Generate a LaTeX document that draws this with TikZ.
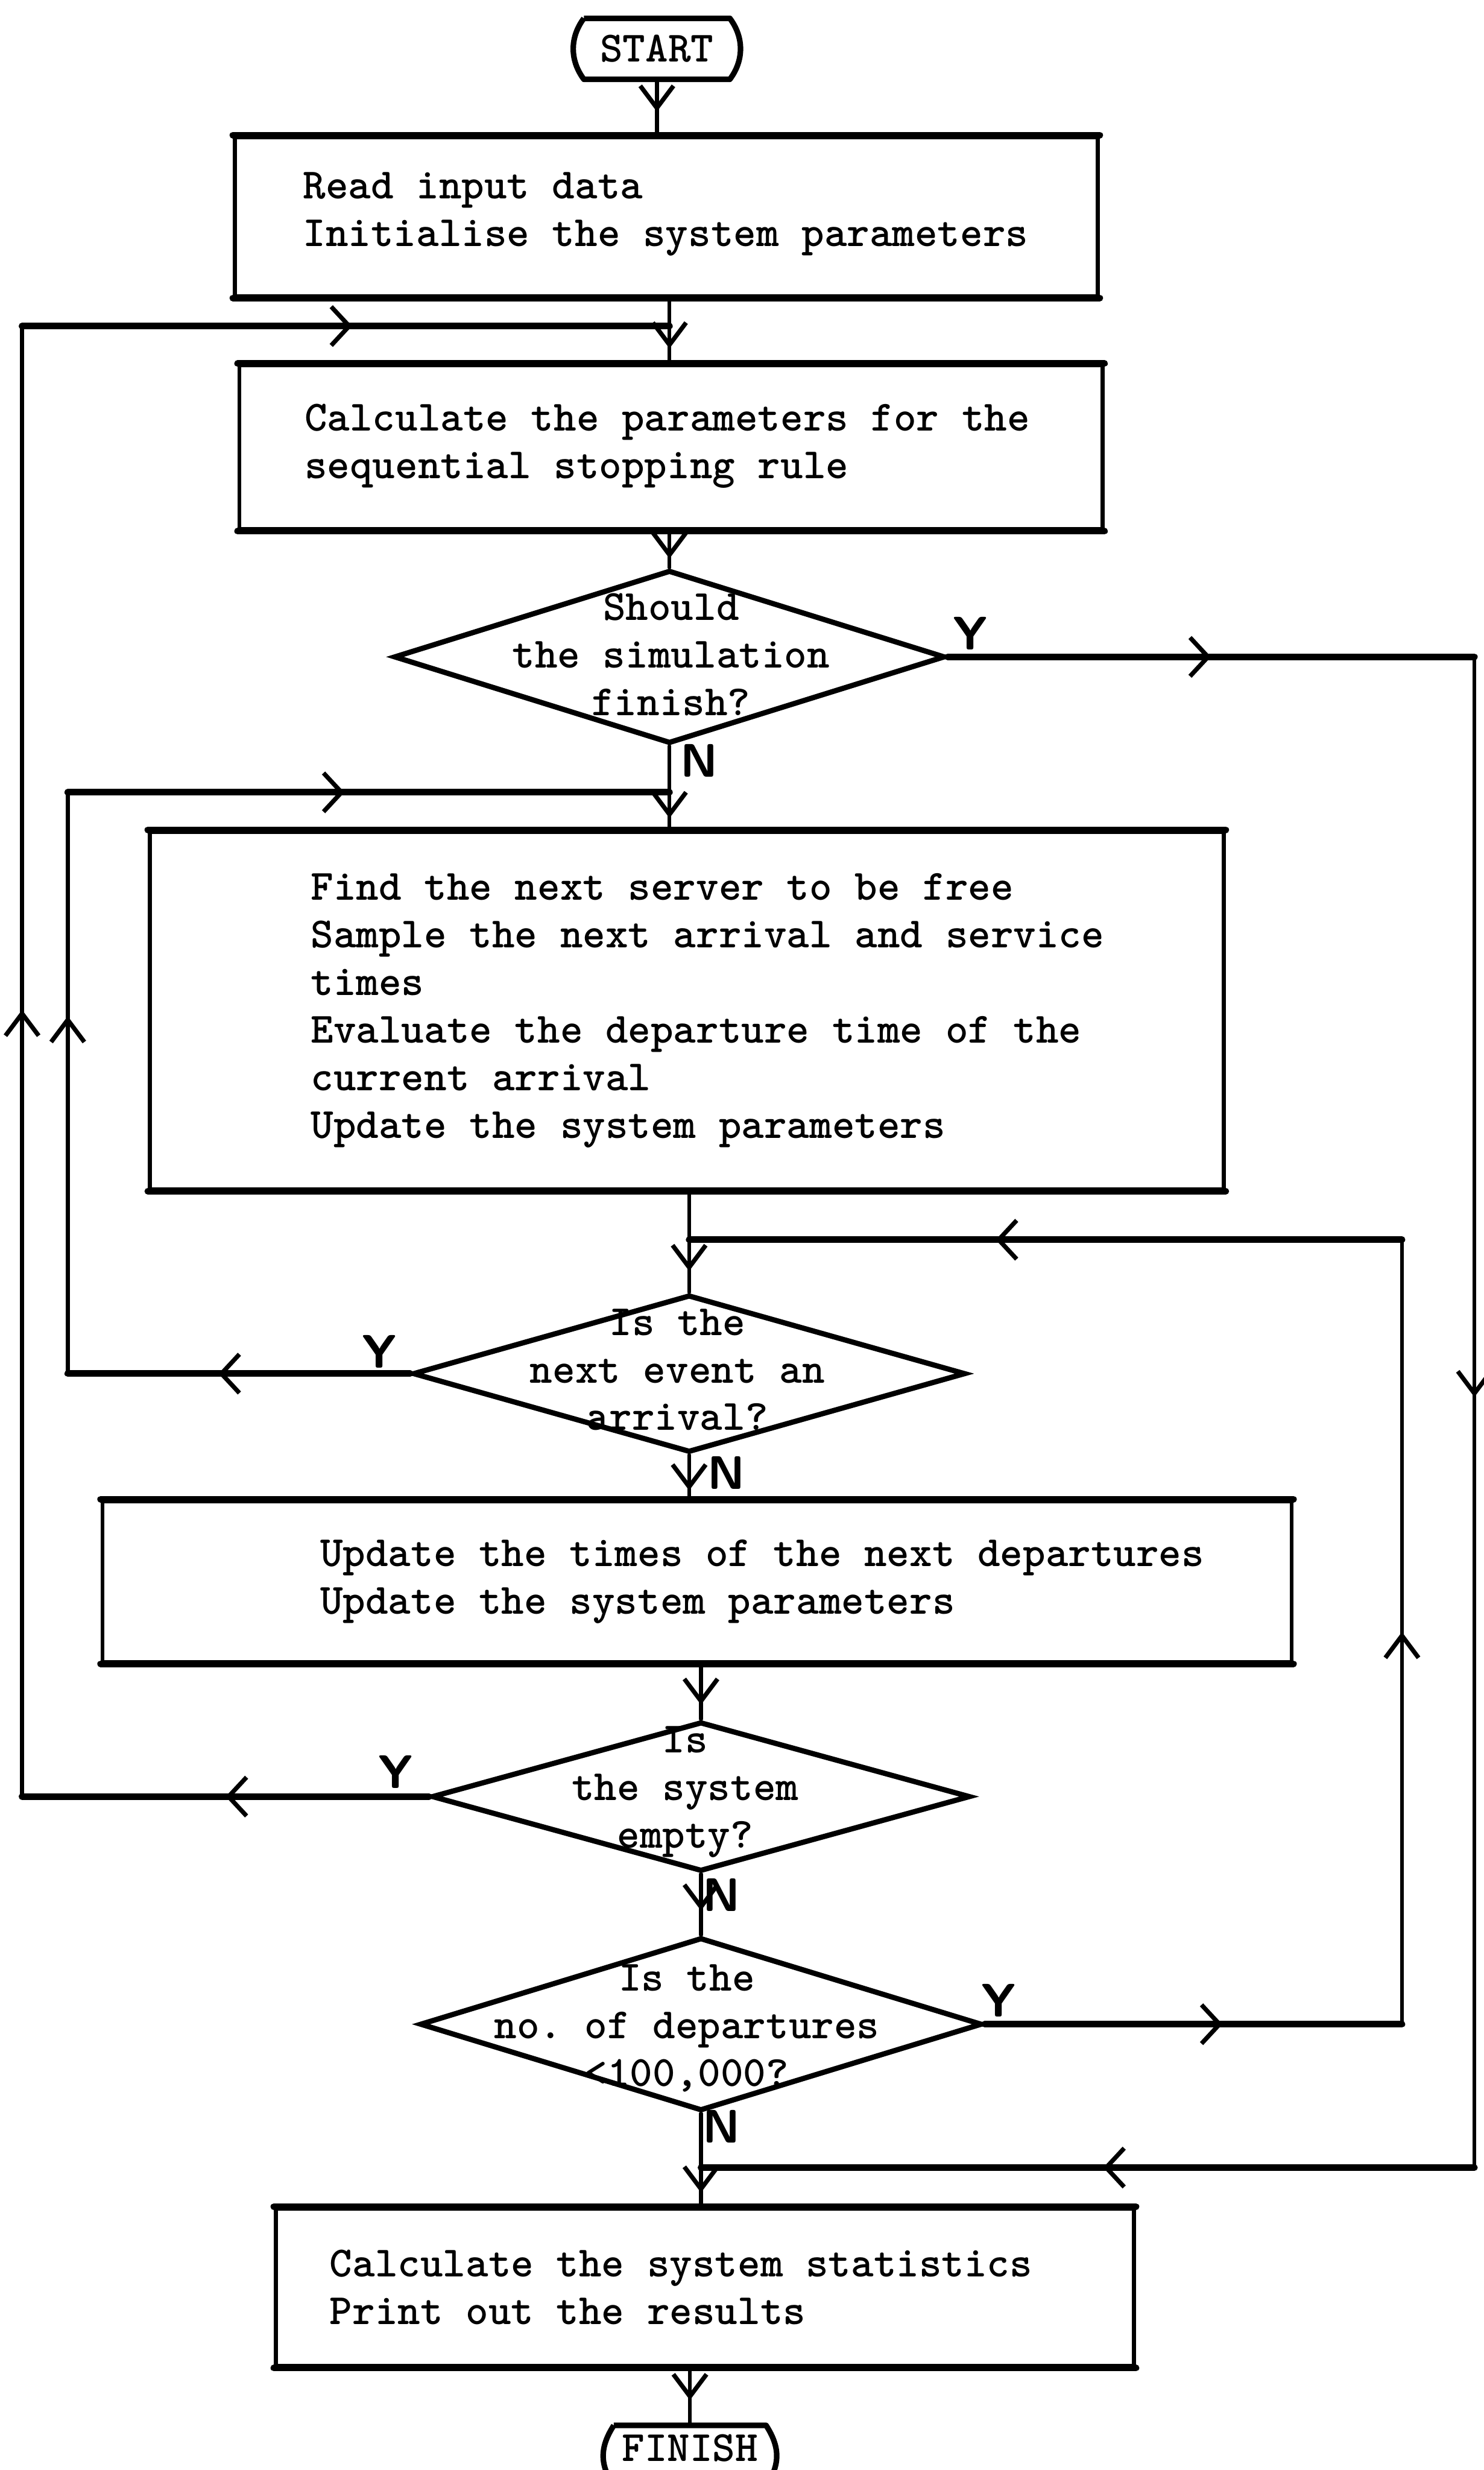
\documentclass[tikz,border=0pt]{standalone}
\usepackage{fontspec}
\usetikzlibrary{arrows.meta,decorations.markings,shapes.geometric,calc}
\frenchspacing
\newcommand{\twfont}{\fontsize{15.6}{17.2}\selectfont\ttfamily\bfseries}
\newcommand{\ynfont}{\fontsize{17}{19}\selectfont\sffamily\bfseries}
\tikzset{
  box/.style={draw, rectangle, line width=1.4pt, inner sep=0pt},
  dia/.style={draw, diamond, line width=1.9pt, inner sep=0pt},
  termnode/.style={rectangle, inner sep=0pt, font=\twfont},
  term/.style={line width=2pt, line join=round},
  txt/.style={font=\twfont, align=left, anchor=west, inner sep=0pt},
  qtxt/.style={font=\twfont, align=center, inner sep=0pt},
  yn/.style={font=\ynfont, inner sep=0pt},
  vl/.style={line width=1.4pt, line cap=round},
  hl/.style={line width=2.4pt, line cap=round},
  arr/.style={postaction={decorate, decoration={markings,
      mark=at position #1 with {\arrow{Straight Barb[length=8pt,width=12pt,line width=1.6pt]}}}}},
  harr/.style={postaction={decorate, decoration={markings,
      mark=at position #1 with {\arrow{Straight Barb[length=6.5pt,width=14pt,line width=1.6pt]}}}}},
}
\begin{document}
\begin{tikzpicture}[x=0.02cm,y=-0.02cm]
\useasboundingbox (0,0) rectangle (942,1568);
\fill[white] (0,0) rectangle (942,1568);

% terminals
\node[termnode, minimum width=1.84cm, minimum height=0.76cm] (start) at (417,31) {START};
\draw[term] (start.north west) -- (start.north east)
  .. controls +(9,12) and +(9,-12) .. (start.south east) -- (start.south west)
  .. controls +(-9,-12) and +(-9,12) .. (start.north west);

\node[termnode, minimum width=1.92cm, minimum height=0.56cm] (finish) at (438,1554) {FINISH};
\draw[term] (finish.north west) -- (finish.north east)
  .. controls +(9,14) and +(9,-14) .. ($(finish.south east)+(0,10)$) -- ($(finish.south west)+(0,10)$)
  .. controls +(-9,-14) and +(-9,14) .. (finish.north west);

% boxes
\node[box, minimum width=10.96cm, minimum height=2.02cm] (b1) at (423,137.5) {};
\node[txt] (b1t) at (192,136) {Read input data\\Initialise the system parameters};
\node[box, minimum width=10.96cm, minimum height=2.08cm] (b2) at (426,284) {};
\node[txt] (b2t) at (193,283) {Calculate the parameters for the\\sequential stopping rule};
\node[box, minimum width=13.64cm, minimum height=4.54cm] (b3) at (436,641.5) {};
\node[txt] (b3t) at (197,641.5) {Find the next server to be free\\Sample the next arrival and service\\times\\Evaluate the departure time of the\\current arrival\\Update the system parameters};
\node[box, minimum width=15.1cm, minimum height=2.04cm] (b4) at (442.5,1004) {};
\node[txt] (b4t) at (203,1004) {Update the times of the next departures\\Update the system parameters};
\node[box, minimum width=10.9cm, minimum height=2cm] (b5) at (447.5,1452) {};
\node[txt] (b5t) at (209,1452) {Calculate the system statistics\\Print out the results};
\foreach \b in {b1,b2,b3,b4,b5}{
  \draw[hl] (\b.north west) -- (\b.north east);
  \draw[hl] (\b.south west) -- (\b.south east);
}

% decisions
\node[dia, minimum width=7cm, minimum height=2.2cm] (d1) at (425,417) {};
\node[qtxt] (d1t) at (426,415.5) {Should\\the simulation\\finish?};
\node[dia, minimum width=7.02cm, minimum height=2cm] (d2) at (437.5,872) {};
\node[qtxt] (d2t) at (430,869.5) {Is the\\next event an\\arrival?};
\node[dia, minimum width=6.84cm, minimum height=1.9cm] (d3) at (445,1140.5) {};
\node[qtxt] (d3t) at (435,1137.5) {Is\\the system\\empty?};
\node[dia, minimum width=7.14cm, minimum height=2.2cm] (d4) at (445,1285) {};
\node[qtxt] (d4t) at (436,1287.5) {Is the\\no. of departures\\<100,000?};

% labels
\node[yn] (y1) at (616,402) {Y};
\node[yn] (n1) at (444,483) {N};
\node[yn] (y2) at (241,858) {Y};
\node[yn] (n2) at (461,935) {N};
\node[yn] (y3) at (251,1125) {Y};
\node[yn] (n3) at (458,1203) {N};
\node[yn] (y4) at (634,1270) {Y};
\node[yn] (n4) at (458,1350) {N};

% main flow
\draw[vl,arr=0.58] (start.south) -- (start.south |- b1.north);
\draw[vl,arr=0.77] (b1.south -| d1.north) -- (b2.north -| d1.north);
\draw[vl,arr=0.75] (b2.south -| d1.north) -- (d1.north);
\draw[vl,arr=0.86] (d1.south) -- (d1.south |- b3.north);
\draw[vl,arr=0.79] (b3.south -| d2.north) -- (d2.north);
\draw[vl,arr=0.8] (d2.south) -- (d2.south |- b4.north);
\draw[vl,arr=0.74] (b4.south -| d3.north) -- (d3.north);
\draw[vl,arr=0.6] (d3.south) -- (d4.north);
\draw[vl,arr=0.85] (d4.south) -- (d4.south |- b5.north);
\draw[vl,arr=0.56] (b5.south -| finish.north) -- (finish.north);

% loop L1 (system empty -> recalc)
\coordinate (l1a) at (14,1140.5);
\coordinate (l1b) at (14,207);
\coordinate (l1c) at (425,207);
\draw[hl,harr=0.5] (d3.west) -- (l1a);
\draw[vl,arr=0.535] (l1a) -- (l1b);
\draw[hl,harr=0.51] (l1b) -- (l1c);

% loop L2 (arrival -> next server)
\coordinate (l2a) at (43,872);
\coordinate (l2b) at (43,503);
\coordinate (l2c) at (425,503);
\draw[hl,harr=0.56] (d2.west) -- (l2a);
\draw[vl,arr=0.615] (l2a) -- (l2b);
\draw[hl,harr=0.46] (l2b) -- (l2c);

% R1 (finish -> statistics)
\coordinate (r1a) at (936,417);
\coordinate (r1b) at (936,1376);
\coordinate (r1c) at (445,1376);
\draw[hl,harr=0.5] (d1.east) -- (r1a);
\draw[vl,arr=0.49] (r1a) -- (r1b);
\draw[hl,harr=0.48] (r1b) -- (r1c);

% R2 (departures < 100000 -> next event)
\coordinate (r2a) at (890,1285);
\coordinate (r2b) at (890,787);
\coordinate (r2c) at (437.5,787);
\draw[hl,harr=0.57] (d4.east) -- (r2a);
\draw[vl,arr=0.5] (r2a) -- (r2b);
\draw[hl,harr=0.57] (r2b) -- (r2c);
\end{tikzpicture}
\end{document}
